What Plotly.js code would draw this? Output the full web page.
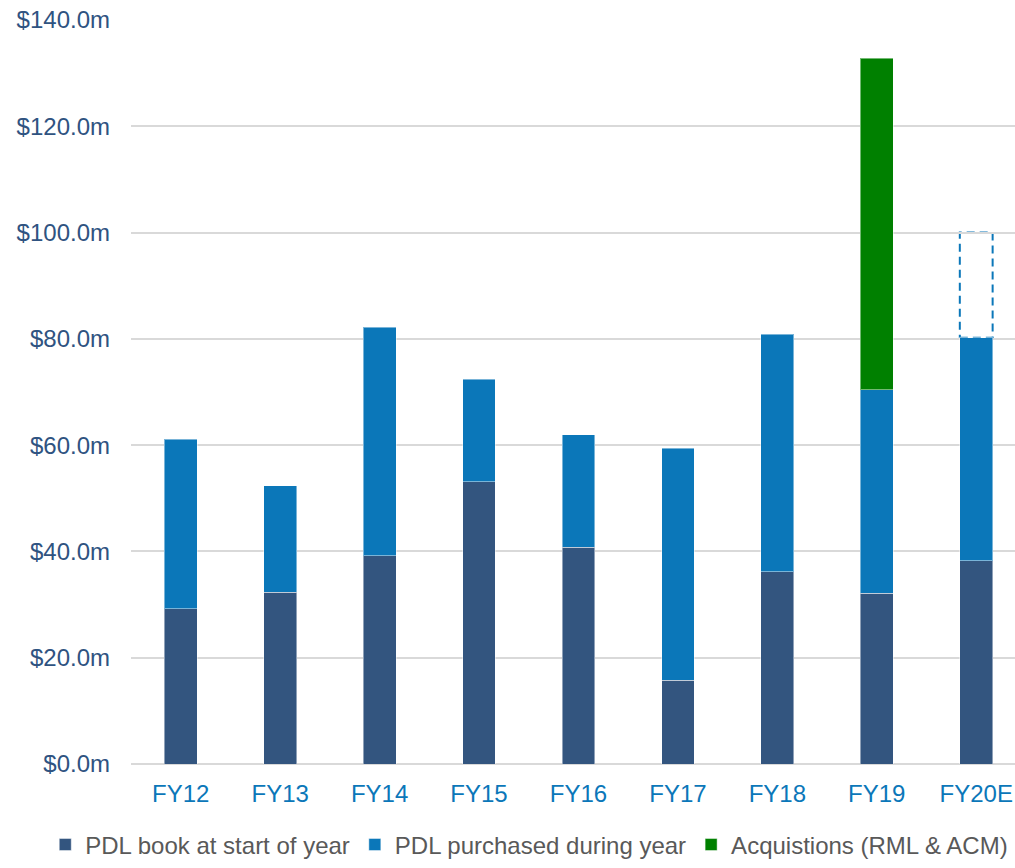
<!DOCTYPE html>
<html>
<head>
<meta charset="utf-8">
<script src="https://cdn.plot.ly/plotly-3.0.1.min.js"></script>
<style>html,body{margin:0;padding:0;background:#fff;}#chart{width:1015px;height:868px;}</style>
</head>
<body>
<div id="chart"></div>
<script>
var categories = ["FY12","FY13","FY14","FY15","FY16","FY17","FY18","FY19","FY20E"];
var bookStart = [29.2, 32.3, 39.2, 53.1, 40.8, 15.8, 36.2, 32.1, 38.2];
var purchased = [31.9, 20.1, 43.0, 19.3, 21.2, 43.6, 44.7, 38.3, 42.0];
var acquisitions = [null, null, null, null, null, null, null, 62.4, null];
var estimateTotal = [null, null, null, null, null, null, null, null, 100.0];
var yTicks = [0, 20, 40, 60, 80, 100, 120, 140];
var yTickText = yTicks.map(function (v) { return "$" + v.toFixed(1) + "m"; });

var font = "Liberation Sans, Arial, sans-serif";
var barW = 0.33;
var edge = {color: "rgba(255,255,255,0.45)", width: 1};

var traces = [
  {type: "bar", name: "PDL book at start of year", x: categories, y: bookStart,
   marker: {color: "#33557F", line: edge}, width: barW},
  {type: "bar", name: "PDL purchased during year", x: categories, y: purchased,
   marker: {color: "#0B77B9", line: edge}, width: barW},
  {type: "bar", name: "Acquistions (RML & ACM)", x: categories, y: acquisitions,
   marker: {color: "#008000", line: edge}, width: barW}
];

var shapes = [];
estimateTotal.forEach(function (v, i) {
  if (v === null) return;
  var base = bookStart[i] + purchased[i] + (acquisitions[i] || 0);
  shapes.push({type: "rect", xref: "x", yref: "y", layer: "below",
    x0: i - barW / 2, x1: i + barW / 2, y0: base, y1: v,
    line: {color: "#0B77B9", width: 2, dash: "8px,5px"}, fillcolor: "rgba(0,0,0,0)"});
});

var layout = {
  width: 1015, height: 868,
  margin: {l: 131, r: 0, t: 20, b: 104},
  paper_bgcolor: "#ffffff", plot_bgcolor: "#ffffff",
  barmode: "stack",
  showlegend: true,
  legend: {orientation: "h", xref: "paper", yref: "paper", x: -0.097, y: -0.139,
    xanchor: "left", yanchor: "bottom", font: {family: font, size: 24, color: "#595959"},
    itemwidth: 30, itemgap: 0, traceorder: "normal"},
  xaxis: {type: "category", range: [-0.5, 8.39], showgrid: false, zeroline: false, showline: false,
    ticks: "", tickfont: {family: font, size: 24, color: "#0B77B9"}, ticklabelstandoff: 13},
  yaxis: {range: [0, 140], tickmode: "array", tickvals: yTicks, ticktext: yTickText,
    showgrid: true, gridcolor: "#D9D9D9", gridwidth: 2, zeroline: true, zerolinecolor: "#D9D9D9",
    zerolinewidth: 2, showline: false, ticks: "", ticklabelstandoff: 20,
    tickfont: {family: font, size: 24, color: "#2F5381"}},
  shapes: shapes
};

Plotly.newPlot("chart", traces, layout, {displayModeBar: false, staticPlot: true});
</script>
</body>
</html>
